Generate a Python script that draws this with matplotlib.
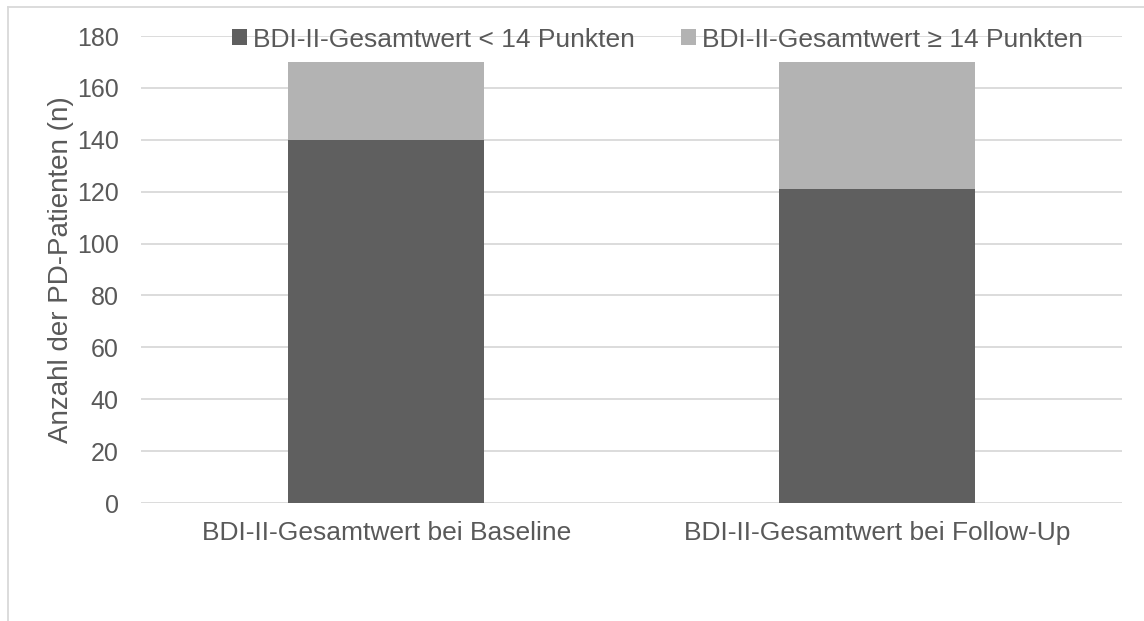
import matplotlib
matplotlib.use("Agg")
import matplotlib.pyplot as plt
from matplotlib.lines import Line2D
from matplotlib.patches import Patch

plt.rcParams['font.family'] = ['Liberation Sans', 'DejaVu Sans']

categories = ["BDI-II-Gesamtwert bei Baseline", "BDI-II-Gesamtwert bei Follow-Up"]
below_14 = [140, 121]
at_least_14 = [30, 49]
series_names = ["BDI-II-Gesamtwert < 14 Punkten", "BDI-II-Gesamtwert \u2265 14 Punkten"]
y_ticks = [0, 20, 40, 60, 80, 100, 120, 140, 160, 180]
y_label = "Anzahl der PD-Patienten (n)"

dark = "#5f5f5f"
light = "#b3b3b3"
text_col = "#595959"
grid_col = "#d9d9d9"

fig = plt.figure(figsize=(11.44, 6.21), dpi=100)
ax = fig.add_axes([0.1233, 0.19, 0.8575, 0.752])

x = list(range(len(categories)))
ax.bar(x, below_14, width=0.4, color=dark, zorder=2)
ax.bar(x, at_least_14, width=0.4, bottom=below_14, color=light, zorder=2)

ax.set_xlim(-0.5, 1.5)
ax.set_ylim(0, 180)
ax.set_yticks(y_ticks)
ax.set_xticks(x)
ax.set_xticklabels(categories)
ax.yaxis.grid(True, color=grid_col, linewidth=1.3, zorder=0)
ax.set_axisbelow(True)
for s in ax.spines.values():
    s.set_visible(False)
ax.tick_params(axis='both', length=0, colors=text_col)
ax.tick_params(axis='y', pad=16, labelsize=18)
ax.tick_params(axis='x', pad=13, labelsize=19)
ax.set_ylabel(y_label, fontsize=20, color=text_col, labelpad=2)

handles = [Patch(facecolor=dark, edgecolor='none'), Patch(facecolor=light, edgecolor='none')]
fig.legend(handles, series_names, loc='center left', bbox_to_anchor=(0.2028, 0.936),
           ncol=2, frameon=False, fontsize=19, labelcolor=text_col,
           handlelength=0.55, handleheight=0.55, handletextpad=0.25, columnspacing=1.75,
           borderaxespad=0, borderpad=0)

# outer chart frame (left and top edges inside the canvas)
fig.add_artist(Line2D([8/1144, 8/1144], [0, 1 - 7/621], transform=fig.transFigure,
                      color=grid_col, linewidth=1.3))
fig.add_artist(Line2D([8/1144, 1], [1 - 7/621, 1 - 7/621], transform=fig.transFigure,
                      color=grid_col, linewidth=1.3))

fig.savefig("out.png", dpi=100, facecolor="white")
